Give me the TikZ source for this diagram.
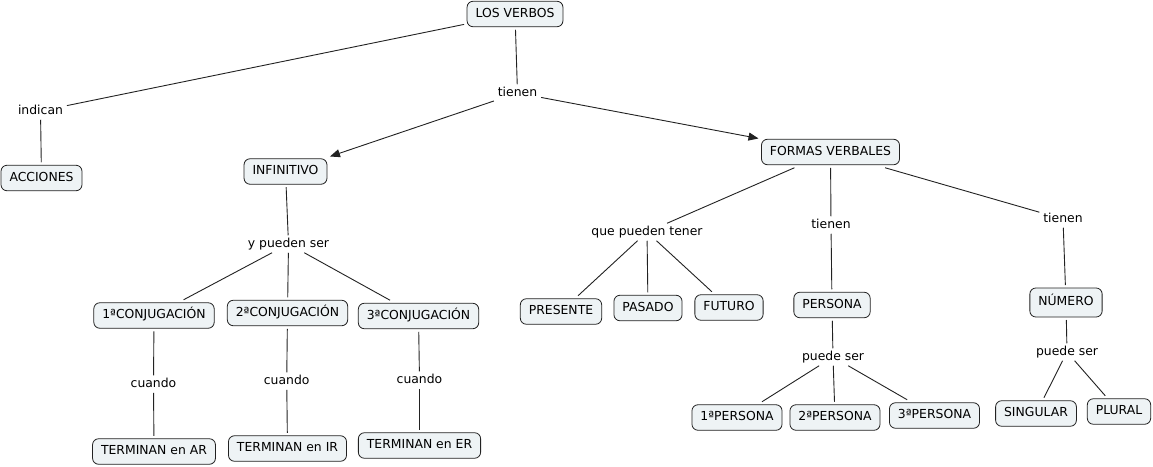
\documentclass[tikz,border=0pt]{standalone}
\usepackage{fontspec}
\setmainfont{DejaVu Sans}
\usetikzlibrary{arrows.meta}
\definecolor{cfill}{HTML}{EEF3F5}
\definecolor{cline}{HTML}{222222}
\begin{document}
\begin{tikzpicture}[x=1pt,y=-1pt,
  concept/.style={draw=cline, fill=cfill, rounded corners=6pt, line width=0.8pt,
    minimum height=25.5pt, inner xsep=8.5pt, inner ysep=2pt, outer sep=3pt,
    text height=9pt, text depth=2.5pt, font=\fontsize{12.4}{14}\selectfont},
  lbl/.style={inner xsep=3pt, inner ysep=2pt, outer sep=1pt,
    text height=9pt, text depth=2.5pt, font=\fontsize{12.4}{14}\selectfont},
  link/.style={draw=cline, line width=0.9pt},
  arrowlink/.style={link, -{Triangle[length=10pt,width=8pt]}}
]
\useasboundingbox[fill=white] (0,0) rectangle (1153,466);

% concepts
\node[concept] (verbos) at (515,14) {LOS VERBOS};
\node[concept] (acciones) at (41.5,178) {ACCIONES};
\node[concept] (infinitivo) at (285.5,171.5) {INFINITIVO};
\node[concept] (formas) at (830.5,152) {FORMAS VERBALES};
\node[concept] (conj1) at (154,315.5) {1ªCONJUGACIÓN};
\node[concept] (conj2) at (287.5,313) {2ªCONJUGACIÓN};
\node[concept] (conj3) at (418.5,316) {3ªCONJUGACIÓN};
\node[concept] (termAR) at (154,451.5) {TERMINAN en AR};
\node[concept] (termIR) at (287.5,448.5) {TERMINAN en IR};
\node[concept] (termER) at (419.5,445.5) {TERMINAN en ER};
\node[concept] (presente) at (561,311.5) {PRESENTE};
\node[concept] (pasado) at (648,308) {PASADO};
\node[concept] (futuro) at (729,307.5) {FUTURO};
\node[concept] (persona) at (832,305) {PERSONA};
\node[concept, minimum height=29pt] (numero) at (1066,302.5) {NÚMERO};
\node[concept] (pers1) at (737,417.5) {1ªPERSONA};
\node[concept] (pers2) at (835,417.5) {2ªPERSONA};
\node[concept] (pers3) at (934.5,415.5) {3ªPERSONA};
\node[concept] (singular) at (1036,413.5) {SINGULAR};
\node[concept] (plural) at (1119,411.5) {PLURAL};

% linking phrases
\node[lbl] (indican) at (40.5,111) {indican};
\node[lbl] (tienenA) at (517.5,93) {tienen};
\node[lbl] (ypueden) at (288.5,244) {y pueden ser};
\node[lbl] (cuando1) at (153.5,384) {cuando};
\node[lbl] (cuando2) at (286.7,381) {cuando};
\node[lbl] (cuando3) at (419.5,380) {cuando};
\node[lbl] (quepueden) at (647,232) {que pueden tener};
\node[lbl] (tienenB) at (831,225) {tienen};
\node[lbl] (tienenC) at (1063,219) {tienen};
\node[lbl] (puede1) at (833,357) {puede ser};
\node[lbl] (puede2) at (1067,352) {puede ser};

% connectors
\draw[link] (verbos) -- (indican);
\draw[link] (indican) -- (acciones);
\draw[link] (verbos) -- (tienenA);
\draw[arrowlink] (tienenA) -- (infinitivo);
\draw[arrowlink] (tienenA) -- (formas);

\draw[link] (infinitivo) -- (ypueden);
\draw[link] (ypueden) -- (conj1);
\draw[link] (ypueden) -- (conj2);
\draw[link] (ypueden) -- (conj3);
\draw[link] (conj1) -- (cuando1);
\draw[link] (conj2) -- (cuando2);
\draw[link] (conj3) -- (cuando3);
\draw[link] (cuando1) -- (termAR);
\draw[link] (cuando2) -- (termIR);
\draw[link] (cuando3) -- (termER);

\draw[link] (formas) -- (quepueden);
\draw[link] (formas) -- (tienenB);
\draw[link] (formas) -- (tienenC);
\draw[link] (quepueden) -- (presente);
\draw[link] (quepueden) -- (pasado);
\draw[link] (quepueden) -- (futuro);
\draw[link] (tienenB) -- (persona);
\draw[link] (persona) -- (puede1);
\draw[link] (puede1) -- (pers1);
\draw[link] (puede1) -- (pers2);
\draw[link] (puede1) -- (pers3);
\draw[link] (tienenC) -- (numero);
\draw[link] (numero) -- (puede2);
\draw[link] (puede2) -- (singular);
\draw[link] (puede2) -- (plural);
\end{tikzpicture}
\end{document}
